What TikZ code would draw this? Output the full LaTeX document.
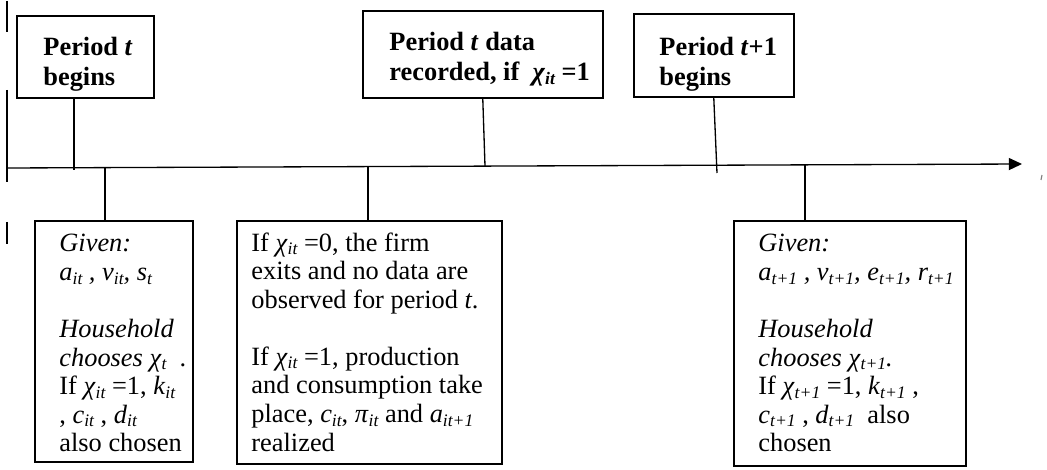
\documentclass[tikz,border=0pt]{standalone}
\usepackage{fontspec}
\setmainfont{Liberation Serif}
\usepackage{tikz}
\usetikzlibrary{positioning}
\usetikzlibrary {arrows.meta}

\newcommand{\pxu}{0.455pt}
\newcommand{\ix}[1]{\raisebox{-0.3ex}{\fontsize{8}{8}\selectfont\itshape #1}}

\begin{document}
\begin{tikzpicture}[x=0.455pt,y=-0.455pt,
		frame/.style={draw,line width=0.7pt,anchor=north west,inner sep=0},
		headtxt/.style={anchor=north west,inner sep=0,align=left,font=\fontsize{12}{13.6}\selectfont\bfseries},
		bodytxt/.style={anchor=north west,inner sep=0,align=left,font=\fontsize{12}{13}\selectfont},
		stem/.style={line width=0.6pt}]
		\useasboundingbox (0,0) rectangle (1047,470);
		
		\draw[line width=1pt] (7,1) -- (7,32) (7,90) -- (7,182) (7,222) -- (7,244);
		\draw[gray,line width=0.5pt] (1042,175) -- (1041,180);
		
		\node[frame,minimum width=137*\pxu,minimum height=82*\pxu] (beg) at (16,15) {};
		\node[headtxt] (begtxt) at (43,37) {Period \textit{t}\\begins};
		
		\node[frame,minimum width=240*\pxu,minimum height=87*\pxu] (rec) at (362,10) {};
		\node[headtxt] (rectxt) at (389,32) {Period \textit{t} data\\recorded, if\ \ \textit{χ}\ix{it} =1};
		
		\node[frame,minimum width=160*\pxu,minimum height=83*\pxu] (nxt) at (633,13) {};
		\node[headtxt] (nxttxt) at (659,37) {Period \textit{t}+1\\begins};
		
		\coordinate (ax0) at (8,168);
		\coordinate (ax1) at (1022,164);
		\draw[stem,-{Triangle[length=6pt,width=5.5pt]}] (ax0) -- (ax1);
		
		\coordinate (t0) at (74,170);
		\coordinate (t1) at (485,166);
		\coordinate (t2) at (717,173);
		\draw[stem] (beg.south -| t0) -- (t0);
		\draw[stem] (rec.south) -- (t1);
		\draw[stem] (nxt.south) -- (t2);
		
		\node[frame,minimum width=158*\pxu,minimum height=241*\pxu] (given) at (34,220) {};
		\node[bodytxt] (giventxt) at (59,234) {\textit{Given:}\\
			{\itshape a\ix{it} , v\ix{it}, s\ix{t}}\\[13pt]
			\textit{Household}\\
			\textit{chooses χ}\ix{t}\ \ .\\
			If \textit{χ}\ix{it} =1, \textit{k}\ix{it}\\
			, \textit{c}\ix{it} , \textit{d}\ix{it}\\
			also chosen};
		
		\node[frame,minimum width=265*\pxu,minimum height=243*\pxu] (exit) at (236,220) {};
		\node[bodytxt] (exittxt) at (251,232) {If \textit{χ}\ix{it} =0, the firm\\
			exits and no data are\\
			observed for period \textit{t}.\\[13pt]
			If \textit{χ}\ix{it} =1, production\\
			and consumption take\\
			place, \textit{c}\ix{it}, \textit{π}\ix{it} and \textit{a}\ix{it+1}\\
			realized};
		
		\node[frame,minimum width=232*\pxu,minimum height=245*\pxu] (given1) at (733,220) {};
		\node[bodytxt] (given1txt) at (758,234) {\textit{Given:}\\
			{\itshape a\ix{t+1} , v\ix{t+1}, e\ix{t+1}, r\ix{t+1}}\\[13pt]
			\textit{Household}\\
			\textit{chooses χ}\ix{t+1}\textit{.}\\
			If \textit{χ}\ix{t+1} =1, \textit{k}\ix{t+1} ,\\
			\textit{c}\ix{t+1} , \textit{d}\ix{t+1}\ \ also\\
			chosen};
		
		\coordinate (b0) at (105,167.6);
		\coordinate (b1) at (368,166.6);
		\coordinate (b2) at (805,164.9);
		\draw[stem] (b0) -- (given.north -| b0);
		\draw[stem] (b1) -- (exit.north -| b1);
		\draw[stem] (b2) -- (given1.north -| b2);
	\end{tikzpicture}
\end{document}
